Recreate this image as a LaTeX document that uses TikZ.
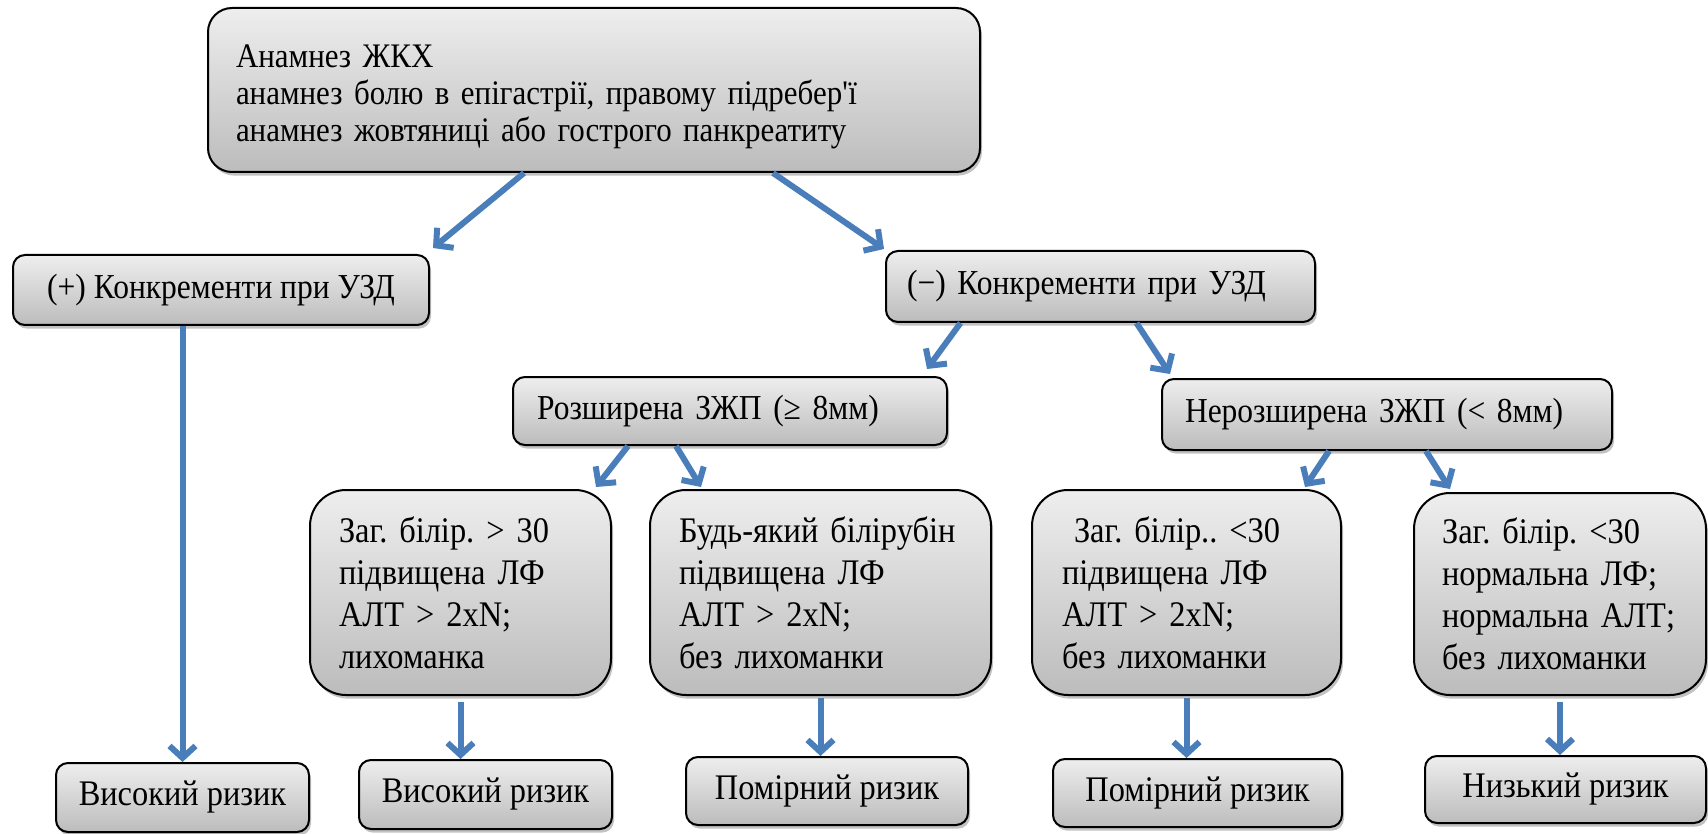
\documentclass[tikz,border=0pt]{standalone}
\usepackage{fontspec}
\setmainfont{Liberation Serif}[FakeStretch=0.9]
\usetikzlibrary{positioning}
\usetikzlibrary{arrows.meta}
\usetikzlibrary{shadows}

\definecolor{linkblue}{RGB}{74,126,187}
\definecolor{boxtop}{RGB}{238,238,238}
\definecolor{boxbottom}{RGB}{188,188,188}

\tikzset{
  box/.style={draw=black, line width=1pt, rounded corners=6pt, top color=boxtop, bottom color=boxbottom,
              drop shadow={shadow xshift=1pt, shadow yshift=-1.8pt, fill=black!40, opacity=0.6},
              inner ysep=0pt, font=\fontsize{17.5}{19}\selectfont},
  textbox/.style={box, align=left},
  bigbox/.style={box, align=left, rounded corners=18pt, minimum height=102.5pt, font=\fontsize{18}{21}\selectfont},
  riskbox/.style={box, minimum height=34.5pt, font=\fontsize{18}{21}\selectfont},
  link/.style={draw=linkblue, line width=3pt, -{Straight Barb[length=6pt, width=13pt]}},
}

\begin{document}
\frenchspacing
\begin{tikzpicture}[x=0.5pt, y=-0.5pt]
 \useasboundingbox (0,0) rectangle (1708,834);

 \node[textbox, name=anamnesis,   rounded corners=12pt, minimum height=82pt, text width=358pt, inner xsep=14pt,
       font=\fontsize{17.2}{18.6}\selectfont] at (594,90)
      {\rule{0pt}{18pt}Анамнез ЖКХ\\анамнез болю в епігастрії, правому підребер\textquotesingle ї\\анамнез жовтяниці або гострого панкреатиту};
 \node[box,     name=stones-pos,  minimum width=208pt, minimum height=35pt]                   at (221,290)    {(+) Конкременти при УЗД};
 \node[textbox, name=stones-neg,  minimum height=35.5pt, text width=193.5pt, inner xsep=10.5pt] at (1100.5,286.5) {(−) Конкременти при УЗД};
 \node[textbox, name=duct-wide,   minimum height=34pt, text width=193pt, inner xsep=12pt]     at (730,411)    {Розширена ЗЖП (≥ 8мм)};
 \node[textbox, name=duct-normal, minimum height=35.5pt, text width=202pt, inner xsep=11.5pt] at (1387,414.5) {Нерозширена ЗЖП (< 8мм)};

 \node[bigbox,  name=bili-high,   text width=121.5pt, inner xsep=14.5pt] at (460.5,592.5)  {Заг. білір. > 30\\підвищена ЛФ\\АЛТ > 2xN;\\лихоманка};
 \node[bigbox,  name=bili-any,    text width=141.5pt, inner xsep=14.5pt] at (820.5,592.5)  {Будь-який білірубін\\підвищена ЛФ\\АЛТ > 2xN;\\без лихоманки};
 \node[bigbox,  name=bili-low,    text width=124.5pt, inner xsep=15pt]   at (1186.5,592.5) {\ Заг. білір.. <30\\підвищена ЛФ\\АЛТ > 2xN;\\без лихоманки};
 \node[bigbox,  name=bili-norm,   text width=118pt,   inner xsep=14pt, minimum height=101pt] at (1560,594) {Заг. білір. <30\\нормальна ЛФ;\\нормальна АЛТ;\\без лихоманки};

 \node[riskbox, name=risk-high-a, minimum width=126.5pt]                     at (182.5,797.5) {Високий ризик};
 \node[riskbox, name=risk-high-b, minimum width=126.5pt]                     at (485.5,794.5) {Високий ризик};
 \node[riskbox, name=risk-mid-a,  minimum width=141pt,   minimum height=34pt] at (827,791)     {Помірний ризик};
 \node[riskbox, name=risk-mid-b,  minimum width=144.5pt, minimum height=34pt] at (1197.5,793)  {Помірний ризик};
 \node[riskbox, name=risk-low,    minimum width=140.5pt, minimum height=33.5pt] at (1565.5,789.5) {Низький ризик};

 \draw[link] ([xshift=-35pt]anamnesis.south)   -- ([shift={(1.5pt,3pt)}]stones-pos.north east)   ;
 \draw[link] ([xshift=89.5pt]anamnesis.south)  -- ([shift={(-0.5pt,0.5pt)}]stones-neg.north west) ;
 \draw[link] ([xshift=-70pt]stones-neg.south)  -- ([shift={(-10.5pt,3.5pt)}]duct-wide.north east) ;
 \draw[link] ([xshift=18pt]stones-neg.south)   -- ([shift={(4.5pt,2pt)}]duct-normal.north west)   ;
 \draw[link] ([xshift=-51pt]duct-wide.south)   -- ([shift={(-8pt,1pt)}]bili-high.north east)     ;
 \draw[link] ([xshift=-27pt]duct-wide.south)   -- ([shift={(26pt,1pt)}]bili-any.north west)      ;
 \draw[link] ([xshift=-29pt]duct-normal.south) -- ([shift={(-18.5pt,1pt)}]bili-low.north east)   ;
 \draw[link] ([xshift=19.5pt]duct-normal.south) -- ([shift={(18.5pt,1.5pt)}]bili-norm.north west) ;

 \draw[link]                (stones-pos.south -| risk-high-a.north) -- (risk-high-a.north)          ;
 \draw[link, shorten <=3pt] (bili-high.south)                       -- (bili-high.south |- risk-high-b.north) ;
 \draw[link, shorten <=1pt] (bili-any.south)                        -- (bili-any.south |- risk-mid-a.north)   ;
 \draw[link, shorten <=1pt] (bili-low.south)                        -- (bili-low.south |- risk-mid-b.north)   ;
 \draw[link, shorten <=3pt] (bili-norm.south)                       -- (bili-norm.south |- risk-low.north)    ;
\end{tikzpicture}
\end{document}
